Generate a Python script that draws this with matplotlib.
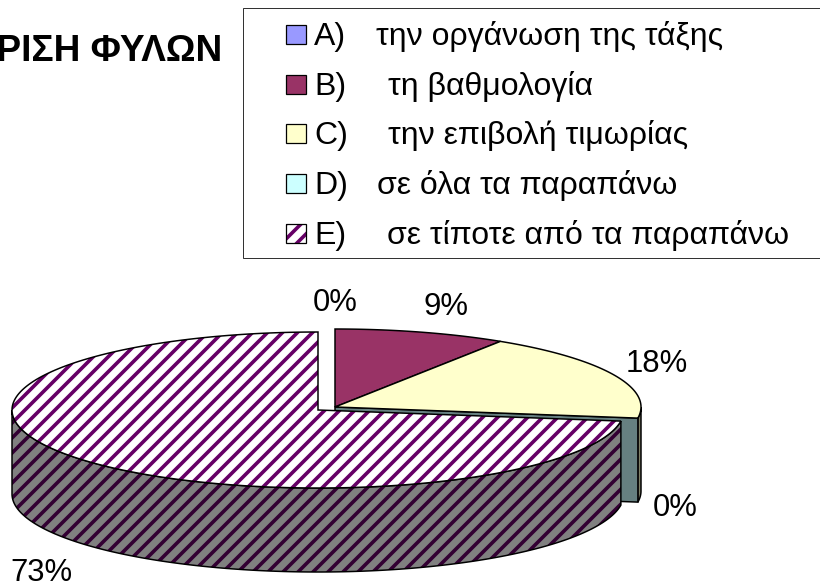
# 3D looking pie with exploded last slice, drawn on a pixel sized axes
import numpy as np
import matplotlib
matplotlib.use('Agg')
import matplotlib.pyplot as plt
from matplotlib.patches import Polygon, Rectangle

plt.rcParams['font.family'] = ['Liberation Sans', 'DejaVu Sans']
plt.rcParams['hatch.linewidth'] = 2.9

# data
letters = ['A)', 'B)', 'C)', 'D)', 'E)']
answers = ['την οργάνωση της τάξης', 'τη βαθμολογία', 'την επιβολή τιμωρίας',
           'σε όλα τα παραπάνω', 'σε τίποτε από τα παραπάνω']
values = [0, 1, 2, 0, 8]
pct_labels = ['0%', '9%', '18%', '0%', '73%']
colors = ['#9999ff', '#993366', '#ffffcc', '#ccffff', '#ffffff']

# label positions, picture pixels
text_x = [376, 388, 388, 377, 387]
pct_xy = [(335, 311), (446, 315), (657, 372), (675, 516), (41, 581)]
legend_y = [35, 85, 134, 184, 234]

# pie geometry, picture pixels
cx, cy = 335, 407
rx, ry = 306, 78
depth = 84
ex_cx, ex_cy = 318, 410

# dpi 90 gives the 15 px stripe spacing of the hatch
fig = plt.figure(figsize=(820 / 90, 582 / 90), dpi=90)
ax = fig.add_axes([0, 0, 1, 1])
ax.set_xlim(0, 820)
ax.set_ylim(582, 0)
ax.axis('off')

# angles clockwise from the top
edges = np.cumsum([0] + values) / sum(values) * 2 * np.pi


def rim(x0, y0, a, b):
    t = np.linspace(a, b, 200)
    return np.column_stack([x0 + rx * np.sin(t), y0 - ry * np.cos(t)])


def hatched(pts, face, hatch_col, z):
    ax.add_patch(Polygon(pts, closed=True, facecolor=face, edgecolor=hatch_col,
                         hatch='//', lw=0, zorder=z))
    ax.add_patch(Polygon(pts, closed=True, fill=False, edgecolor='black', lw=1.2, zorder=z + 0.1))


# C outer wall, seen on the right
a, b = np.pi / 2, edges[3]
top = rim(cx, cy, a, b)
wall = np.vstack([top, top[::-1] + [0, depth]])
ax.add_patch(Polygon(wall, closed=True, facecolor='#808066', edgecolor='black', lw=1.2, zorder=1))

# cut face of the D slice
end = rim(cx, cy, edges[3], edges[3])[0]
face = [(cx, cy), end, end + [0, depth], (cx, cy + depth)]
ax.add_patch(Polygon(face, closed=True, facecolor='#668080', edgecolor='black', lw=1.2, zorder=1.5))

# tops of B and C
for i in [1, 2]:
    pts = np.vstack([[cx, cy], rim(cx, cy, edges[i], edges[i + 1])])
    ax.add_patch(Polygon(pts, closed=True, facecolor=colors[i], edgecolor='black', lw=1.2, zorder=2))

# exploded E slice, wall first and then the top
top = rim(ex_cx, ex_cy, edges[4], 3 * np.pi / 2)
wall = np.vstack([top, top[::-1] + [0, depth]])
hatched(wall, '#808080', '#330033', 3)
pts = np.vstack([[ex_cx, ex_cy], rim(ex_cx, ex_cy, edges[4], edges[5])])
hatched(pts, colors[4], '#660066', 4)

# percent labels
for (x, y), s in zip(pct_xy, pct_labels):
    ax.text(x, y, s, fontsize=24.8, ha='center', va='baseline', color='black')

# title, runs off the left edge in the source
ax.text(222, 61, 'ΔΙΑΚΡΙΣΗ ΦΥΛΩΝ', fontsize=29.6, fontweight='bold',
        ha='right', va='baseline', color='black')

# legend box, no right border inside the picture
ax.add_patch(Rectangle((243, 8), 620, 250, facecolor='white', edgecolor='#333333', lw=0.8, zorder=5))
for i in range(len(letters)):
    y = legend_y[i]
    if i == 4:
        ax.add_patch(Rectangle((286, y - 10), 20, 19, facecolor=colors[i], edgecolor='#660066',
                               hatch='//', lw=0, zorder=6))
    else:
        ax.add_patch(Rectangle((286, y - 10), 20, 19, facecolor=colors[i], lw=0, zorder=6))
    ax.add_patch(Rectangle((286, y - 10), 20, 19, fill=False, edgecolor='black', lw=1, zorder=6.1))
    ax.text(314, y + 10, letters[i], fontsize=25.6, va='baseline', color='black', zorder=7)
    ax.text(text_x[i], y + 10, answers[i], fontsize=25.6, va='baseline', color='black', zorder=7)

fig.savefig('out.png', dpi=90)
